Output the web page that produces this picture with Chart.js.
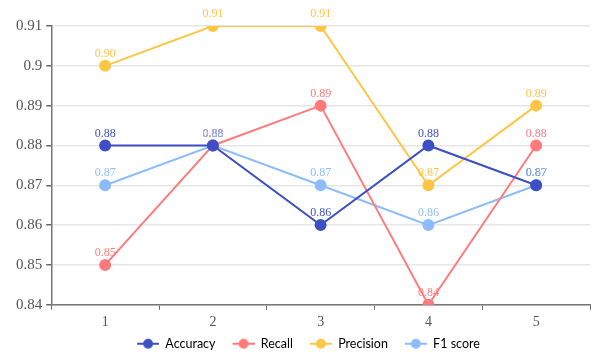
<!DOCTYPE html>
<html>
<head>
<meta charset="utf-8">
<script src="https://cdn.jsdelivr.net/npm/chart.js@4/dist/chart.umd.min.js"></script>
<style>
  html, body { margin: 0; padding: 0; background: #fff; }
  #wrap { width: 597px; height: 353px; }
</style>
</head>
<body>
<div id="wrap"><canvas id="c" width="597" height="353"></canvas></div>
<script>
// ── Data ──
const folds = ['1', '2', '3', '4', '5'];
const accuracy  = [0.88, 0.88, 0.86, 0.88, 0.87];
const recall    = [0.85, 0.88, 0.89, 0.84, 0.88];
const precision = [0.90, 0.91, 0.91, 0.87, 0.89];
const f1score   = [0.87, 0.88, 0.87, 0.86, 0.87];
const seriesNames = ['Accuracy', 'Recall', 'Precision', 'F1 score'];
const colors = ['#3d4fc4', '#ff7b7b', '#ffc645', '#8cbcfa'];

// legend marker: short line with a dot, transparent gap on the left
function legendMarker(color) {
  const cv = document.createElement('canvas');
  cv.width = 36; cv.height = 12;
  const g = cv.getContext('2d');
  g.strokeStyle = color; g.lineWidth = 2;
  g.beginPath(); g.moveTo(14, 6); g.lineTo(36, 6); g.stroke();
  g.fillStyle = color;
  g.beginPath(); g.arc(25, 6, 5, 0, Math.PI * 2); g.fill();
  return cv;
}

// value labels above each point
const valueLabels = {
  id: 'valueLabels',
  afterDatasetsDraw(chart) {
    const ctx = chart.ctx;
    ctx.save();
    ctx.font = '12px "Liberation Serif", serif';
    ctx.textAlign = 'center';
    ctx.textBaseline = 'bottom';
    chart.data.datasets.forEach((ds, i) => {
      chart.getDatasetMeta(i).data.forEach((pt, j) => {
        ctx.fillStyle = ds.borderColor;
        ctx.fillText(ds.data[j].toFixed(2), pt.x, pt.y - 6);
      });
    });
    ctx.restore();
  }
};

// trim the legend box so it sits closer to the bottom edge
const tightLegend = {
  id: 'tightLegend',
  beforeUpdate(chart) {
    const lg = chart.legend;
    if (!lg || lg._tight) return;
    const fit = lg.fit;
    lg.fit = function () { fit.call(this); this.height -= 7; };
    lg._tight = true;
  }
};

const allSeries = [accuracy, recall, precision, f1score];

new Chart(document.getElementById('c'), {
  type: 'line',
  data: {
    labels: folds,
    datasets: allSeries.map((d, i) => ({
      label: seriesNames[i],
      data: d,
      borderColor: colors[i],
      backgroundColor: colors[i],
      borderWidth: 2,
      pointRadius: 5,
      pointHoverRadius: 5,
      tension: 0,
    }))
  },
  options: {
    responsive: false,
    animation: false,
    layout: { padding: { top: 26, right: 6, left: 12, bottom: 0 } },
    plugins: {
      tooltip: { enabled: false },
      legend: {
        position: 'bottom',
        labels: {
          usePointStyle: true,
          pointStyleWidth: 36,
          boxHeight: 12,
          padding: 3,
          color: '#222',
          font: { size: 12.5, family: 'Lato, "Noto Sans", sans-serif' },
          generateLabels(chart) {
            return chart.data.datasets.map((ds, i) => ({
              text: ds.label,
              pointStyle: legendMarker(colors[i]),
              fillStyle: colors[i],
              strokeStyle: colors[i],
              lineWidth: 0,
              hidden: false,
              datasetIndex: i,
            }));
          }
        }
      }
    },
    scales: {
      x: {
        offset: true,
        grid: { display: true, drawOnChartArea: false, offset: true, tickLength: 5, tickColor: '#666' },
        border: { color: '#777', width: 1.5 },
        ticks: { color: '#555', padding: 4, font: { size: 14, family: '"Liberation Serif", serif' } }
      },
      y: {
        min: 0.84,
        max: 0.91,
        grid: { color: '#e6e6e6', lineWidth: 1.5, tickLength: 5, tickColor: '#666' },
        border: { color: '#777', width: 1.5 },
        ticks: {
          stepSize: 0.01,
          color: '#555',
          padding: 4,
          font: { size: 15, family: '"Liberation Serif", serif' },
          callback: v => String(+v.toFixed(2))
        }
      }
    }
  },
  plugins: [valueLabels, tightLegend]
});
</script>
</body>
</html>
